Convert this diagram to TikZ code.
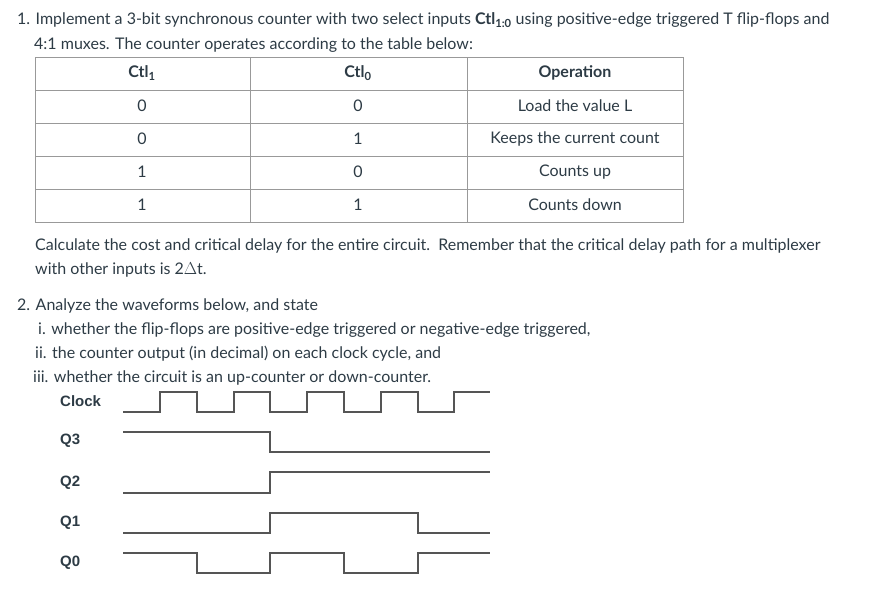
\documentclass[tikz,border=0pt]{standalone}
\usepackage{fontspec}
\setmainfont{Lato}
\newfontfamily\wavefont{Liberation Sans}
\definecolor{txt}{HTML}{2D3B45}
\definecolor{wv}{HTML}{555555}
\begin{document}
\begin{tikzpicture}[x=1pt,y=-1pt,every node/.style={text=txt,font=\fontsize{16}{19}\selectfont,inner sep=0pt},
 tl/.style={anchor=west},
 cell/.style={anchor=center},
 grid/.style={draw=gray!80,line width=0.8pt},
 wave/.style={draw=wv,line width=1.1pt},
 wl/.style={anchor=west,font=\wavefont\bfseries\fontsize{15}{18}\selectfont}]
\useasboundingbox (0,0) rectangle (889,592);
\node[tl] (l1) at (17,20) {1. Implement a 3-bit synchronous counter with two select inputs \textbf{Ctl\textsubscript{1:0}} using positive-edge triggered T flip-flops and};
\node[tl] (l2) at (34,45) {4:1 muxes. The counter operates according to the table below:};
% table
\draw[grid] (35,57) rectangle (683,222);
\foreach \y in {90,123,156,189} \draw[grid] (35,\y) -- (683,\y);
\draw[grid] (250,57) -- (250,222);
\draw[grid] (467,57) -- (467,222);
\node[cell] (h1) at (142,73) {\textbf{Ctl\textsubscript{1}}};
\node[cell] (h2) at (358,73) {\textbf{Ctl\textsubscript{0}}};
\node[cell] (h3) at (575,73) {\textbf{Operation}};
\node[cell] (a1) at (142,106) {0};
\node[cell] (a2) at (358,106) {0};
\node[cell] (a3) at (575,106) {Load the value L};
\node[cell] (b1) at (142,139) {0};
\node[cell] (b2) at (358,139) {1};
\node[cell] (b3) at (575,139) {Keeps the current count};
\node[cell] (c1) at (142,172) {1};
\node[cell] (c2) at (358,172) {0};
\node[cell] (c3) at (575,172) {Counts up};
\node[cell] (d1) at (142,205) {1};
\node[cell] (d2) at (358,205) {1};
\node[cell] (d3) at (575,205) {Counts down};
\node[tl] (l3) at (35,246) {Calculate the cost and critical delay for the entire circuit.\ \ Remember that the critical delay path for a multiplexer};
\node[tl] (l4) at (35,270) {with other inputs is 2$\Delta$t.};
\node[tl] (l5) at (17,306) {2. Analyze the waveforms below, and state};
\node[tl] (l6) at (38,330) {i. whether the flip-flops are positive-edge triggered or negative-edge triggered,};
\node[tl] (l7) at (35,354) {ii. the counter output (in decimal) on each clock cycle, and};
\node[tl] (l8) at (33,378) {iii. whether the circuit is an up-counter or down-counter.};
% waveforms
\node[wl] (wc) at (60,401) {Clock};
\node[wl] (w3) at (60,441) {Q3};
\node[wl] (w2) at (60,483) {Q2};
\node[wl] (w1) at (60,523) {Q1};
\node[wl] (w0) at (60,563) {Q0};
\draw[wave] (123,412) -- (160,412) -- (160,392) -- (197,392) -- (197,412) -- (234,412) -- (234,392) -- (270,392) -- (270,412) -- (307,412) -- (307,392) -- (344,392) -- (344,412) -- (381,412) -- (381,392) -- (418,392) -- (418,412) -- (454,412) -- (454,392) -- (490,392);
\draw[wave] (123,432) -- (270,432) -- (270,452) -- (490,452);
\draw[wave] (123,493) -- (270,493) -- (270,472) -- (490,472);
\draw[wave] (123,533) -- (270,533) -- (270,513) -- (418,513) -- (418,533) -- (490,533);
\draw[wave] (123,553) -- (197,553) -- (197,573) -- (270,573) -- (270,553) -- (344,553) -- (344,573) -- (418,573) -- (418,553) -- (490,553);
\end{tikzpicture}
\end{document}
